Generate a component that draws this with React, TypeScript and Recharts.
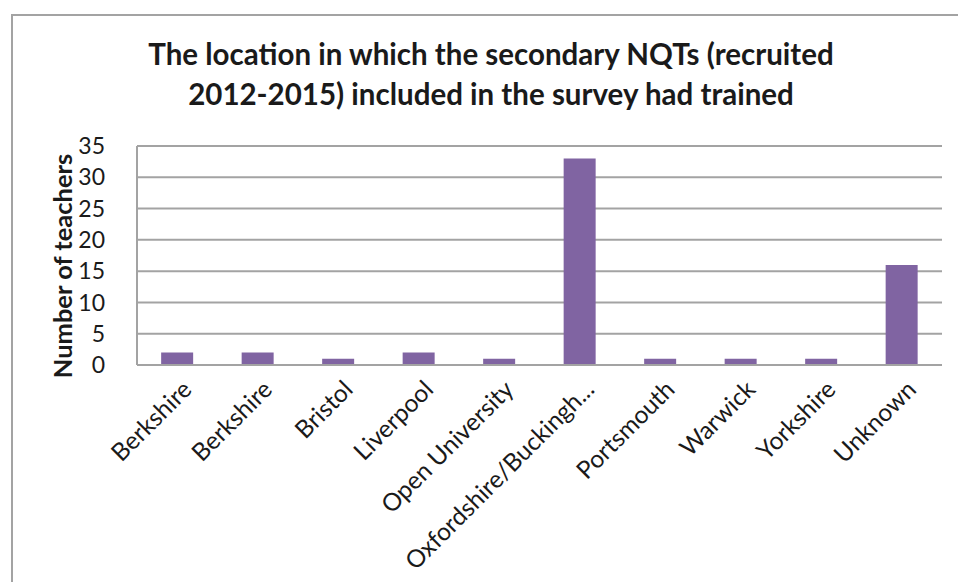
import React from "react";
import { BarChart, Bar, XAxis, YAxis, CartesianGrid } from "recharts";

const CATEGORIES = [
  "Berkshire",
  "Berkshire",
  "Bristol",
  "Liverpool",
  "Open University",
  "Oxfordshire/Buckingh...",
  "Portsmouth",
  "Warwick",
  "Yorkshire",
  "Unknown",
];
const TEACHERS = [2, 2, 1, 2, 1, 33, 1, 1, 1, 16];
const Y_TICKS = [0, 5, 10, 15, 20, 25, 30, 35];

const TITLE_LINES = [
  "The location in which the secondary NQTs (recruited",
  "2012-2015) included in the survey had trained",
];

const FONT = "Lato, 'Open Sans', sans-serif";
const GRID = "#a3a3a3";

const data = CATEGORIES.map((name, i) => ({ name, teachers: TEACHERS[i] }));

function XTick({ x, y, payload }: { x?: number; y?: number; payload?: { value: string } }) {
  return (
    <text
      x={0}
      y={0}
      transform={`translate(${(x ?? 0) + 16}, ${(y ?? 0) + 18}) rotate(-45)`}
      textAnchor="end"
      fontSize={24.5}
      fontFamily={FONT}
      fill="#1a1a1a"
    >
      {payload?.value}
    </text>
  );
}

export default function App() {
  return (
    <div
      style={{
        position: "absolute",
        left: 0,
        top: 0,
        width: 958,
        height: 582,
        overflow: "hidden",
        background: "#fff",
        fontFamily: FONT,
      }}
    >
      <div
        style={{
          position: "absolute",
          left: 11,
          top: 14,
          width: 1000,
          height: 700,
          border: `2px solid ${GRID}`,
          boxSizing: "border-box",
        }}
      />
      <div
        style={{
          position: "absolute",
          left: 0,
          top: 34,
          width: 982,
          textAlign: "center",
          fontWeight: 700,
          fontSize: 29.5,
          lineHeight: "40px",
          color: "#1a1a1a",
        }}
      >
        {TITLE_LINES.map((l) => (
          <div key={l}>{l}</div>
        ))}
      </div>
      <div
        style={{
          position: "absolute",
          left: 62,
          top: 266,
          transform: "translate(-50%, -50%) rotate(-90deg)",
          whiteSpace: "nowrap",
          fontWeight: 700,
          fontSize: 25.5,
          color: "#1a1a1a",
        }}
      >
        Number of teachers
      </div>
      <div style={{ position: "absolute", left: 0, top: 0 }}>
        <BarChart
          width={958}
          height={582}
          data={data}
          margin={{ top: 146, right: 16, bottom: 0, left: 0 }}
          barCategoryGap="30%"
        >
          <CartesianGrid vertical={false} stroke={GRID} strokeWidth={2} />
          <XAxis
            dataKey="name"
            interval={0}
            height={217}
            tick={<XTick />}
            tickLine={false}
            axisLine={{ stroke: GRID, strokeWidth: 2 }}
          />
          <YAxis
            width={137}
            domain={[0, 35]}
            ticks={Y_TICKS}
            interval={0}
            tickLine={false}
            axisLine={{ stroke: GRID, strokeWidth: 2 }}
            tick={{ fontSize: 23, fill: "#1a1a1a", fontFamily: FONT }}
            tickMargin={26}
          />
          <Bar dataKey="teachers" fill="#8064a2" isAnimationActive={false} />
        </BarChart>
      </div>
    </div>
  );
}
